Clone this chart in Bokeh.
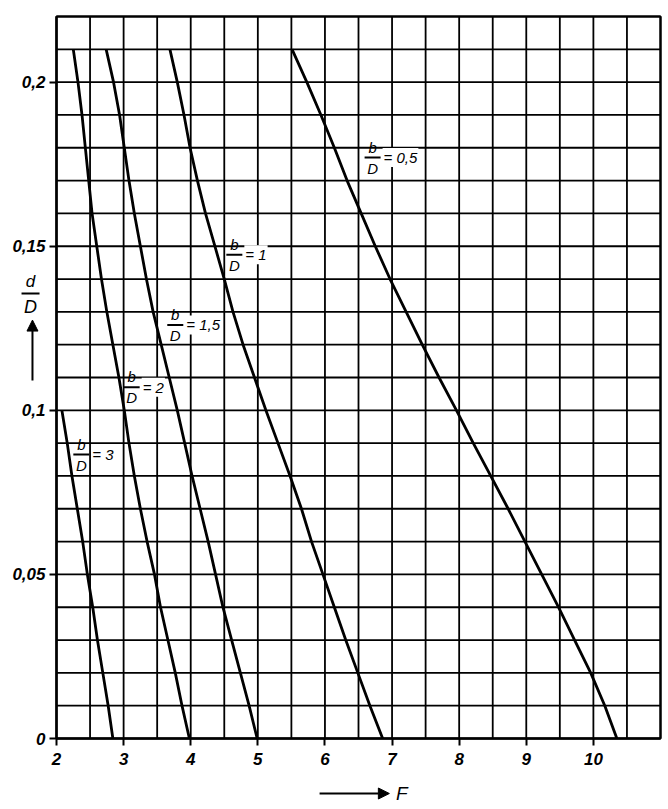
from bokeh.plotting import figure
from bokeh.models import Range1d, FixedTicker, Label, Arrow, NormalHead, LinearAxis
from bokeh.embed import file_html
from bokeh.resources import INLINE

# ---- data ----
d_levels = [0.21, 0.20, 0.19, 0.18, 0.17, 0.16, 0.15, 0.14, 0.13, 0.12, 0.11,
            0.10, 0.09, 0.08, 0.07, 0.06, 0.05, 0.04, 0.03, 0.02, 0.01, 0.00]
d_levels_3 = [0.10, 0.09, 0.08, 0.07, 0.06, 0.05, 0.04, 0.03, 0.02, 0.01, 0.00]

F_b05 = [5.51, 5.73, 5.94, 6.14, 6.33, 6.54, 6.75, 6.97, 7.21, 7.45, 7.70,
         7.96, 8.21, 8.47, 8.73, 8.98, 9.23, 9.48, 9.72, 9.96, 10.17, 10.35]
F_b1 = [3.69, 3.80, 3.90, 3.99, 4.10, 4.22, 4.36, 4.50, 4.63, 4.78, 4.95,
        5.12, 5.30, 5.48, 5.65, 5.80, 5.97, 6.14, 6.31, 6.49, 6.67, 6.86]
F_b15 = [2.74, 2.85, 2.94, 3.01, 3.08, 3.16, 3.25, 3.34, 3.44, 3.56, 3.68,
         3.80, 3.91, 4.02, 4.14, 4.26, 4.37, 4.48, 4.61, 4.74, 4.87, 4.99]
F_b2 = [2.25, 2.32, 2.38, 2.43, 2.48, 2.53, 2.60, 2.67, 2.75, 2.84, 2.93,
        3.01, 3.08, 3.16, 3.25, 3.35, 3.46, 3.55, 3.66, 3.77, 3.87, 3.98]
F_b3 = [2.08, 2.16, 2.23, 2.31, 2.39, 2.46, 2.54, 2.61, 2.69, 2.77, 2.84]

x_ticks = [2, 3, 4, 5, 6, 7, 8, 9, 10]
y_ticks = [0, 0.05, 0.1, 0.15, 0.2]
y_tick_labels = ["0", "0,05", "0,1", "0,15", "0,2"]

curve_values = ["0,5", "1", "1,5", "2", "3"]
# label anchor (centre of fraction bar) in data coordinates
label_F = [6.71, 4.65, 3.77, 3.12, 2.37]
label_d = [0.177, 0.1474, 0.126, 0.107, 0.0865]

# chart area (the squared paper)
F_MIN, F_MAX = 2, 11
D_MIN, D_MAX = 0, 0.22

FONT = "Liberation Sans"

# the frame covers the whole picture; axes are pinned at the chart edges
PX_X = 604 / 9.0          # pixels per unit of F
PX_Y = 722 / 0.22         # pixels per unit of d/D
W, H = 664, 805
x0 = F_MIN - 56 / PX_X
y1 = D_MAX + 16 / PX_Y
p = figure(frame_width=W, frame_height=H,
           x_range=Range1d(x0, x0 + W / PX_X),
           y_range=Range1d(y1 - H / PX_Y, y1),
           output_backend="svg", toolbar_location=None,
           x_axis_location=None, y_axis_location=None,
           min_border=0, outline_line_color=None,
           background_fill_color="white", border_fill_color="white")
p.xgrid.visible = False
p.ygrid.visible = False

# squared paper: vertical lines every 0.5, horizontal every 0.01
gx = [F_MIN + 0.5 * i for i in range(19)]
gy = [0.01 * i for i in range(23)]
p.segment(x0=gx, y0=[D_MIN] * len(gx), x1=gx, y1=[D_MAX] * len(gx),
          line_color="black", line_width=1.8)
p.segment(x0=[F_MIN] * len(gy), y0=gy, x1=[F_MAX] * len(gy), y1=gy,
          line_color="black", line_width=1.8)
p.quad(left=[F_MIN], right=[F_MAX], bottom=[D_MIN], top=[D_MAX],
       fill_color=None, line_color="black", line_width=2.2)

# axes
xaxis = LinearAxis(fixed_location=D_MIN, bounds=(F_MIN, F_MAX),
                   ticker=FixedTicker(ticks=x_ticks))
yaxis = LinearAxis(fixed_location=F_MIN, bounds=(D_MIN, D_MAX),
                   ticker=FixedTicker(ticks=y_ticks))
yaxis.major_label_overrides = {t: l for t, l in zip(y_ticks, y_tick_labels)}
for ax in (xaxis, yaxis):
    ax.axis_line_color = "black"
    ax.axis_line_width = 2
    ax.major_tick_line_color = "black"
    ax.major_tick_line_width = 2
    ax.major_tick_out = 7
    ax.major_tick_in = 0
    ax.minor_tick_out = 0
    ax.minor_tick_in = 0
    ax.major_label_text_font = FONT
    ax.major_label_text_font_style = "bold italic"
    ax.major_label_text_font_size = "17px"
    ax.major_label_text_color = "black"
xaxis.major_label_standoff = 7
yaxis.major_label_standoff = 4
p.add_layout(xaxis, "below")
p.add_layout(yaxis, "left")

# curves
for F in (F_b05, F_b1, F_b15, F_b2):
    p.line(F, d_levels, line_color="black", line_width=2.8)
p.line(F_b3, d_levels_3, line_color="black", line_width=2.8)

# curve labels: b/D = value
px = 1 / PX_X
for fx, fy, val in zip(label_F, label_d, curve_values):
    p.add_layout(Label(x=fx, y=fy, text="= " + val, text_align="left",
                       text_baseline="middle", x_offset=10,
                       text_font=FONT, text_font_style="italic",
                       text_font_size="15px", text_color="black",
                       background_fill_color="white", padding=1))
    p.add_layout(Label(x=fx, y=fy, text="b", text_align="center",
                       text_baseline="bottom", y_offset=2,
                       text_font=FONT, text_font_style="italic",
                       text_font_size="15px", text_color="black"))
    p.add_layout(Label(x=fx, y=fy, text="D", text_align="center",
                       text_baseline="top", y_offset=-2,
                       text_font=FONT, text_font_style="italic",
                       text_font_size="15px", text_color="black"))
    p.add_layout(Arrow(x_start=fx - 8 * px, y_start=fy,
                       x_end=fx + 8 * px, y_end=fy, start=None, end=None,
                       line_color="black", line_width=2))

# y-axis title: d/D with upward arrow
yl_x, yl_y = 1.613, 0.1356
p.add_layout(Label(x=yl_x, y=yl_y, text="d", text_align="center",
                   text_baseline="bottom", y_offset=2, text_font=FONT,
                   text_font_style="italic", text_font_size="17px",
                   text_color="black"))
p.add_layout(Label(x=yl_x, y=yl_y, text="D", text_align="center",
                   text_baseline="top", y_offset=-4, text_font=FONT,
                   text_font_style="italic", text_font_size="18px",
                   text_color="black"))
p.add_layout(Arrow(x_start=yl_x - 9 * px, y_start=yl_y,
                   x_end=yl_x + 9 * px, y_end=yl_y, start=None, end=None,
                   line_color="black", line_width=2))
p.add_layout(Arrow(x_start=1.642, y_start=0.1091, x_end=1.642, y_end=0.1275,
                   end=NormalHead(size=11, fill_color="black",
                                  line_color="black"),
                   line_color="black", line_width=2))

# x-axis title: arrow -> F
xt_y = -0.01676
p.add_layout(Arrow(x_start=5.92, y_start=xt_y, x_end=6.96, y_end=xt_y,
                   end=NormalHead(size=11, fill_color="black",
                                  line_color="black"),
                   line_color="black", line_width=2))
p.add_layout(Label(x=7.06, y=xt_y, text="F", text_align="left",
                   text_baseline="middle", text_font=FONT,
                   text_font_style="italic", text_font_size="19px",
                   text_color="black"))

open("out.html", "w").write(file_html(p, INLINE))
